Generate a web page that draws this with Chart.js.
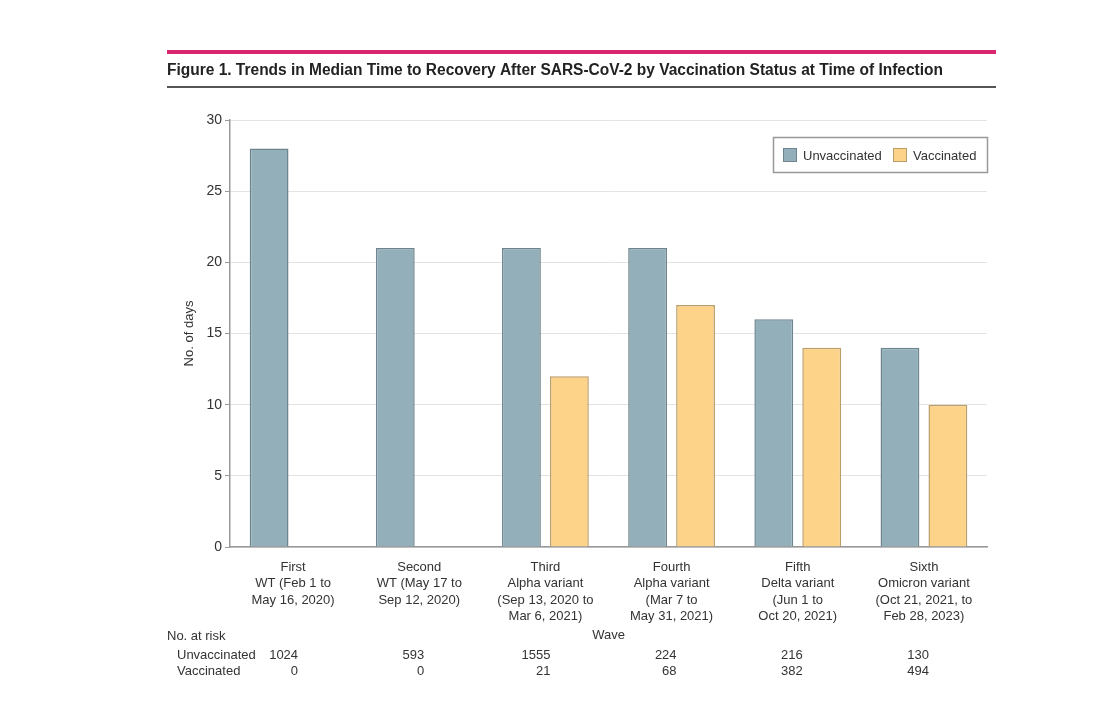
<!DOCTYPE html>
<html>
<head>
<meta charset="utf-8">
<script src="https://cdn.jsdelivr.net/npm/chart.js@4/dist/chart.umd.min.js"></script>
<style>
  html, body { margin: 0; padding: 0; background: #fff; }
  #wrap { width: 1100px; height: 725px; position: relative; }
</style>
</head>
<body>
<div id="wrap"><canvas id="grafico" width="1100" height="725"></canvas></div>
<script>
const ondas = [
  ["First", "WT (Feb 1 to", "May 16, 2020)"],
  ["Second", "WT (May 17 to", "Sep 12, 2020)"],
  ["Third", "Alpha variant", "(Sep 13, 2020 to", "Mar 6, 2021)"],
  ["Fourth", "Alpha variant", "(Mar 7 to", "May 31, 2021)"],
  ["Fifth", "Delta variant", "(Jun 1 to", "Oct 20, 2021)"],
  ["Sixth", "Omicron variant", "(Oct 21, 2021, to", "Feb 28, 2023)"]
];
const naoVacinados = [28, 21, 21, 21, 16, 14];
const vacinados = [null, null, 12, 17, 14, 10];
const riscoNaoVacinados = [1024, 593, 1555, 224, 216, 130];
const riscoVacinados = [0, 0, 21, 68, 382, 494];
const ticksY = [0, 5, 10, 15, 20, 25, 30];

const FONTE = "'Liberation Sans', Arial, sans-serif";
const TEXTO = "#333";

// texto espremido na horizontal pra caber na largura
function textoEstreito(ctx, txt, x, y, largura) {
  const w = ctx.measureText(txt).width;
  const k = Math.min(1, largura / w);
  ctx.save();
  ctx.translate(x, y);
  ctx.scale(k, 1);
  ctx.fillText(txt, 0, 0);
  ctx.restore();
}

const extras = {
  id: "extras",
  afterDraw(chart) {
    const ctx = chart.ctx;
    const x = chart.scales.x;
    ctx.save();

    // titulo com as linhas
    ctx.fillStyle = "#d9266f";
    ctx.fillRect(167, 50, 829, 4);
    ctx.fillStyle = "#555";
    ctx.fillRect(167, 86, 829, 2);
    ctx.fillStyle = "#222";
    ctx.font = "bold 16px " + FONTE;
    ctx.textBaseline = "middle";
    ctx.textAlign = "left";
    textoEstreito(ctx, "Figure 1. Trends in Median Time to Recovery After SARS-CoV-2 by Vaccination Status at Time of Infection", 167, 71, 776);

    // legenda
    ctx.strokeStyle = "#999";
    ctx.lineWidth = 1.5;
    ctx.strokeRect(773.5, 137.5, 214, 35);
    ctx.font = "13px " + FONTE;
    let lx = 783;
    chart.data.datasets.forEach(ds => {
      ctx.fillStyle = ds.backgroundColor;
      ctx.fillRect(lx, 148, 14, 14);
      ctx.strokeStyle = ds.borderColor;
      ctx.lineWidth = 1;
      ctx.strokeRect(lx + 0.5, 148.5, 13, 13);
      ctx.fillStyle = TEXTO;
      ctx.fillText(ds.label, lx + 20, 156);
      lx += 110;
    });

    // tabela "No. at risk"
    ctx.fillStyle = TEXTO;
    ctx.font = "13px " + FONTE;
    ctx.textAlign = "left";
    ctx.fillText("No. at risk", 167, 636);
    ctx.fillText("Unvaccinated", 177, 655);
    ctx.fillText("Vaccinated", 177, 671);
    ctx.textAlign = "right";
    ondas.forEach((_, i) => {
      const px = x.getPixelForValue(i) + 5;
      ctx.fillText(String(riscoNaoVacinados[i]), px, 655);
      ctx.fillText(String(riscoVacinados[i]), px, 671);
    });
    ctx.restore();
  }
};

new Chart(document.getElementById("grafico"), {
  type: "bar",
  data: {
    labels: ondas,
    datasets: [
      {
        label: "Unvaccinated",
        data: naoVacinados,
        backgroundColor: "#93afba",
        borderColor: "#6e848e",
        borderWidth: 1.5,
        categoryPercentage: 0.76,
        barPercentage: 0.81
      },
      {
        label: "Vaccinated",
        data: vacinados,
        backgroundColor: "#fdd389",
        borderColor: "#bb9d68",
        borderWidth: 1.5,
        categoryPercentage: 0.76,
        barPercentage: 0.81
      }
    ]
  },
  options: {
    responsive: false,
    animation: false,
    layout: { padding: { left: 170, right: 113, top: 120, bottom: 78 } },
    plugins: {
      legend: { display: false },
      tooltip: { enabled: false }
    },
    scales: {
      x: {
        grid: { display: false },
        border: { color: "#999", width: 1.5 },
        ticks: {
          color: TEXTO,
          padding: 4,
          maxRotation: 0,
          autoSkip: false,
          font: { family: FONTE, size: 13, lineHeight: 1.27 }
        },
        title: {
          display: true,
          text: "Wave",
          color: TEXTO,
          font: { family: FONTE, size: 13 },
          padding: { top: 2, bottom: 4 }
        },
        afterFit: s => { s.height = 100; }
      },
      y: {
        min: 0,
        max: 30,
        afterBuildTicks: s => { s.ticks = ticksY.map(v => ({ value: v })); },
        grid: { color: "#e3e3e3", tickColor: "#999", tickLength: 5, lineWidth: 1 },
        border: { color: "#999", width: 1.5 },
        ticks: {
          color: TEXTO,
          padding: 3,
          font: { family: FONTE, size: 14 }
        },
        title: {
          display: true,
          text: "No. of days",
          color: TEXTO,
          font: { family: FONTE, size: 13 },
          padding: { top: 12, bottom: 0 }
        },
        afterFit: s => { s.width = 60; }
      }
    }
  },
  plugins: [extras]
});
</script>
</body>
</html>
